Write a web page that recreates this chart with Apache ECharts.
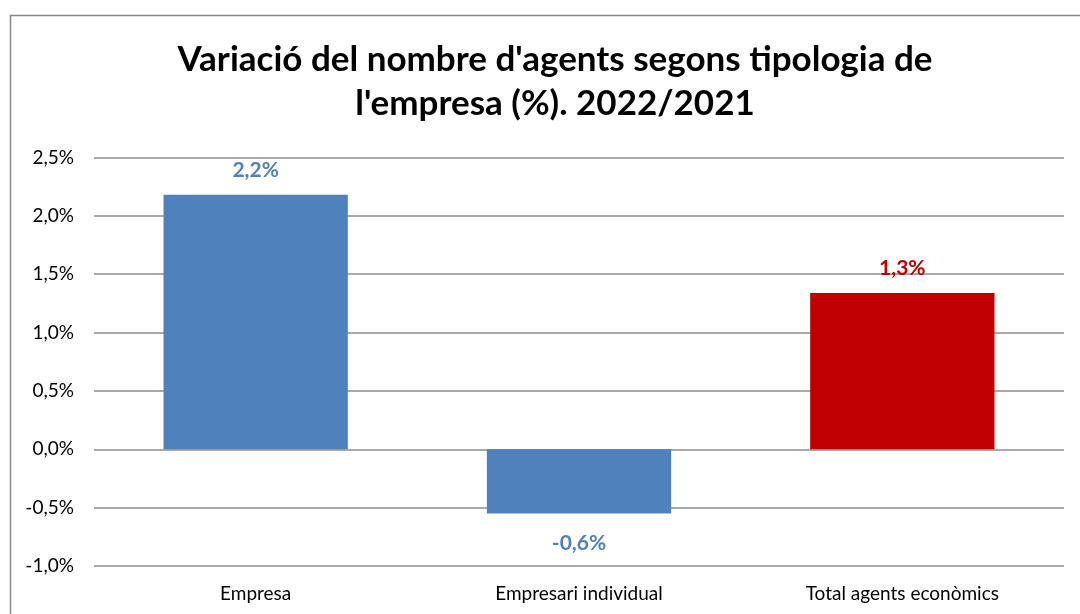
<!DOCTYPE html>
<html><head><meta charset="utf-8">
<script src="https://cdn.jsdelivr.net/npm/echarts@6/dist/echarts.min.js"></script>
<style>html,body{margin:0;padding:0;background:#fff}#c{width:1080px;height:614px}</style>
</head><body><div id="c"></div>
<script>
const categories = ['Empresa', 'Empresari individual', 'Total agents econòmics'];
const values = [2.18, -0.55, 1.34];
const barColors = ['#4F81BD', '#4F81BD', '#C00000'];
const yTicks = [-1.0, -0.5, 0.0, 0.5, 1.0, 1.5, 2.0, 2.5];
const titleText = "Variació del nombre d'agents segons tipologia de\nl'empresa (%). 2022/2021";

const fmt = v => v.toFixed(1).replace('.', ',') + '%';
const chart = echarts.init(document.getElementById('c'));
chart.setOption({
  backgroundColor: '#fff',
  animation: false,
  graphic: [{
    type: 'rect', left: 8, top: 13, shape: { width: 1200, height: 800 },
    style: { fill: 'none', stroke: '#888', lineWidth: 1.5 }, silent: true, z: -1
  }],
  title: {
    text: titleText, left: 550, top: 33, textAlign: 'center',
    textStyle: { fontFamily: 'Lato', fontWeight: 'bold', fontSize: 35, color: '#000', lineHeight: 44 }
  },
  grid: { left: 94, right: 16, top: 157.5, bottom: 48 },
  xAxis: {
    type: 'category', data: categories,
    axisLine: { show: false }, axisTick: { show: false },
    axisLabel: { color: '#000', fontFamily: 'Lato', fontSize: 19, margin: 18 }
  },
  yAxis: {
    type: 'value', min: yTicks[0], max: yTicks[yTicks.length - 1], interval: 0.5,
    axisLine: { show: false }, axisTick: { show: false },
    axisLabel: { color: '#000', fontFamily: 'Lato', fontSize: 19, margin: 20, formatter: fmt },
    splitLine: { lineStyle: { color: '#8c8c8c', width: 1.5 } }
  },
  series: [{
    type: 'bar', barWidth: '57%',
    data: values.map((v, i) => ({
      value: v,
      itemStyle: { color: barColors[i] },
      label: { color: barColors[i], position: v < 0 ? 'bottom' : 'top', distance: v < 0 ? 19 : 14 }
    })),
    label: {
      show: true, fontFamily: 'Lato', fontWeight: 'bold', fontSize: 21,
      formatter: p => fmt(p.value)
    }
  }]
});
</script></body></html>
